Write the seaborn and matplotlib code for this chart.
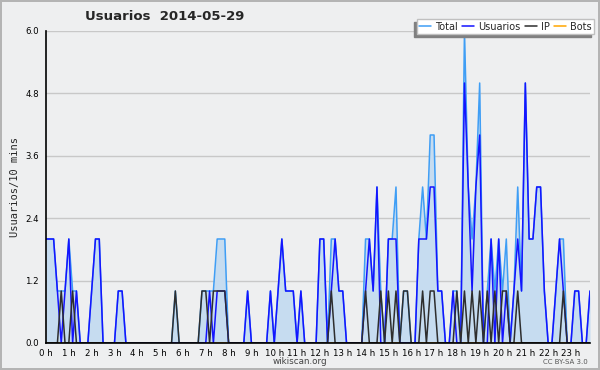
import numpy as np
import pandas as pd
import seaborn as sns
import matplotlib.pyplot as plt
from matplotlib.ticker import MultipleLocator, FixedLocator, FormatStrFormatter

# --- data: one value per 10 minutes, 144 slots (0 h .. 23 h 50) ---
title = "Usuarios  2014-05-29"
ylabel = "Usuarios/10 mins"
series_names = ["Total", "Usuarios", "IP", "Bots"]

total = [
    2, 2, 2, 1, 1, 1, 2, 1, 1, 0, 0, 0,
    1, 2, 2, 0, 0, 0, 0, 1, 1, 0, 0, 0,
    0, 0, 0, 0, 0, 0, 0, 0, 0, 0, 1, 0,
    0, 0, 0, 0, 0, 1, 1, 1, 1, 2, 2, 2,
    0, 0, 0, 0, 0, 1, 0, 0, 0, 0, 0, 1,
    0, 1, 2, 1, 1, 1, 0, 1, 0, 0, 0, 0,
    2, 2, 0, 2, 2, 1, 1, 0, 0, 0, 0, 0,
    2, 2, 1, 3, 1, 0, 2, 2, 3, 0, 1, 1,
    0, 0, 2, 3, 2, 4, 4, 1, 1, 0, 0, 1,
    1, 0, 6, 3, 2, 3, 5, 0, 1, 2, 1, 2,
    1, 2, 0, 1, 3, 1, 5, 2, 2, 3, 3, 1,
    0, 0, 1, 2, 2, 0, 0, 1, 1, 0, 0, 1,
]
usuarios = [
    2, 2, 2, 1, 0, 1, 2, 0, 1, 0, 0, 0,
    1, 2, 2, 0, 0, 0, 0, 1, 1, 0, 0, 0,
    0, 0, 0, 0, 0, 0, 0, 0, 0, 0, 0, 0,
    0, 0, 0, 0, 0, 0, 0, 1, 0, 1, 1, 1,
    0, 0, 0, 0, 0, 1, 0, 0, 0, 0, 0, 1,
    0, 1, 2, 1, 1, 1, 0, 1, 0, 0, 0, 0,
    2, 2, 0, 1, 2, 1, 1, 0, 0, 0, 0, 0,
    1, 2, 1, 3, 0, 0, 2, 2, 2, 0, 0, 0,
    0, 0, 2, 2, 2, 3, 3, 1, 1, 0, 0, 1,
    0, 0, 5, 3, 1, 3, 4, 0, 0, 2, 0, 2,
    0, 1, 0, 1, 2, 1, 5, 2, 2, 3, 3, 1,
    0, 0, 1, 2, 1, 0, 0, 1, 1, 0, 0, 1,
]
ip = [
    0, 0, 0, 0, 1, 0, 0, 1, 0, 0, 0, 0,
    0, 0, 0, 0, 0, 0, 0, 0, 0, 0, 0, 0,
    0, 0, 0, 0, 0, 0, 0, 0, 0, 0, 1, 0,
    0, 0, 0, 0, 0, 1, 1, 0, 1, 1, 1, 1,
    0, 0, 0, 0, 0, 0, 0, 0, 0, 0, 0, 0,
    0, 0, 0, 0, 0, 0, 0, 0, 0, 0, 0, 0,
    0, 0, 0, 1, 0, 0, 0, 0, 0, 0, 0, 0,
    1, 0, 0, 0, 1, 0, 1, 0, 1, 0, 1, 1,
    0, 0, 0, 1, 0, 1, 1, 0, 0, 0, 0, 0,
    1, 0, 1, 0, 1, 0, 1, 0, 1, 0, 1, 0,
    1, 1, 0, 0, 1, 0, 0, 0, 0, 0, 0, 0,
    0, 0, 0, 0, 1, 0, 0, 0, 0, 0, 0, 0,
]
bots = [
    0, 0, 0, 0, 0, 0, 0, 0, 0, 0, 0, 0,
    0, 0, 0, 0, 0, 0, 0, 0, 0, 0, 0, 0,
    0, 0, 0, 0, 0, 0, 0, 0, 0, 0, 0, 0,
    0, 0, 0, 0, 0, 0, 0, 0, 0, 0, 0, 0,
    0, 0, 0, 0, 0, 0, 0, 0, 0, 0, 0, 0,
    0, 0, 0, 0, 0, 0, 0, 0, 0, 0, 0, 0,
    0, 0, 0, 0, 0, 0, 0, 0, 0, 0, 0, 0,
    0, 0, 0, 0, 0, 0, 0, 0, 0, 0, 0, 0,
    0, 0, 0, 0, 0, 0, 0, 0, 0, 0, 0, 0,
    0, 0, 0, 0, 0, 0, 0, 0, 0, 0, 0, 0,
    0, 0, 0, 0, 0, 0, 0, 0, 0, 0, 0, 0,
    0, 0, 0, 0, 0, 0, 0, 0, 0, 0, 0, 0,
]
hour_ticks = list(range(24))
hour_labels = [f"{h} h" for h in hour_ticks]

# --- long table for seaborn ---
hours = np.arange(len(total)) / 6.0
df = pd.DataFrame({"hour": hours, "Total": total, "Usuarios": usuarios,
                   "IP": ip, "Bots": bots})

bg = "#eeeff0"
colors = {"Total": "#3f9ef5", "Usuarios": "#1414ff", "IP": "#2e2e2e", "Bots": "#ffa500"}

sns.set_style("white")
plt.rcParams["font.family"] = ["DejaVu Sans"]

fig = plt.figure(figsize=(6, 3.7), dpi=100, facecolor=bg,
                 edgecolor="#b4b4b4", linewidth=1.5)
ax = fig.add_axes([46 / 600, 27 / 370, 544 / 600, 312 / 370])
ax.set_facecolor(bg)

ax.fill_between(df["hour"], df["Total"], color="#c6dcf0", lw=0, zorder=1)
for name in ["Bots", "Total", "Usuarios", "IP"]:
    sns.lineplot(data=df, x="hour", y=name, ax=ax, color=colors[name],
                 lw=1.1, label=name, legend=False, zorder=2)

ax.set_xlim(0, hours[-1])
ax.set_ylim(0, 6)
ax.xaxis.set_major_locator(FixedLocator(hour_ticks))
ax.set_xticklabels(hour_labels)
ax.xaxis.set_minor_locator(MultipleLocator(1 / 6))
ax.yaxis.set_major_locator(MultipleLocator(1.2))
ax.yaxis.set_minor_locator(MultipleLocator(0.3))
ax.yaxis.set_major_formatter(FormatStrFormatter("%.1f"))
ax.grid(axis="y", which="major", color="#c8c8c8", lw=1)
ax.set_axisbelow(True)

for s in ["top", "right"]:
    ax.spines[s].set_visible(False)
for s in ["left", "bottom"]:
    ax.spines[s].set_color("black")
    ax.spines[s].set_linewidth(1.2)

ax.tick_params(axis="both", which="major", direction="out", length=4, width=1,
               labelsize=6.2, colors="black")
ax.tick_params(axis="x", which="major", pad=0)
ax.tick_params(axis="y", which="major", pad=1)
ax.tick_params(axis="both", which="minor", direction="out", length=3, width=1,
               colors="black")
ax.set_xlabel("")
ax.set_ylabel(ylabel, family="DejaVu Sans Mono", fontsize=7.5, labelpad=4)

fig.text(85 / 600, 1 - 17 / 370, title, fontsize=9.5, fontweight="bold",
         ha="left", va="center")

handles = [plt.Line2D([], [], color=colors[n], lw=1.1) for n in series_names]
fig.legend(handles, series_names, loc="upper right", bbox_to_anchor=(0.99, 0.948),
           ncol=4, fontsize=7, frameon=True, fancybox=False, framealpha=1,
           facecolor="white", edgecolor="#c0c0c0", handlelength=1.2,
           handletextpad=0.4, columnspacing=0.5, borderpad=0.25,
           borderaxespad=0,
           shadow={"ox": -2.2, "oy": -2.2, "color": "#808080", "alpha": 1})

fig.text(0.5, 1 - 362 / 370, "wikiscan.org", fontsize=6.3, color="#444444",
         ha="center", va="center")
fig.text(588 / 600, 1 - 362 / 370, "CC BY-SA 3.0", fontsize=5, color="#555555",
         ha="right", va="center")

fig.savefig("out.png", dpi=100, facecolor=bg)
